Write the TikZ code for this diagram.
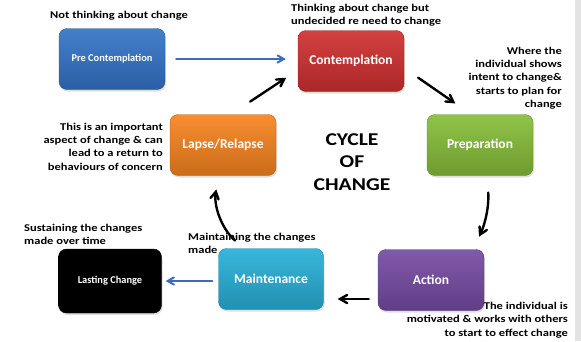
\documentclass[tikz,border=0pt]{standalone}
\usepackage{fontspec}
\setmainfont{Carlito}
\newfontfamily\notefont[FakeStretch=1.2]{Carlito}
\usepackage{tikz}
\usetikzlibrary{arrows}
\usetikzlibrary{shapes}
\usetikzlibrary{shadows}

\definecolor{precol}{HTML}{3474C8}
\definecolor{concol}{HTML}{D03030}
\definecolor{prepcol}{HTML}{86BE3A}
\definecolor{actcol}{HTML}{764BA3}
\definecolor{maintcol}{HTML}{28B0D8}
\definecolor{lapcol}{HTML}{F7841F}
\definecolor{bluearrow}{HTML}{3D6DBA}

\begin{document}
\begin{tikzpicture}[x=1pt,y=-1pt,>=angle 60,
                    every edge/.style={draw,line width=2.4pt,line cap=round},
                    stage/.style={rounded corners=8pt,minimum width=106pt,
                      minimum height=61pt,text=white,draw=#1!75!black,
                      top color=#1!92!white,bottom color=#1!82!black,
                      font=\bfseries\fontsize{13.5}{15}\selectfont,
                      drop shadow={opacity=0.25,shadow xshift=1pt,shadow yshift=-2pt}},
                    note/.style={inner sep=0pt,font=\notefont\bfseries\fontsize{10.4}{13.3}\selectfont}]
\useasboundingbox (0,0) rectangle (581,341);
\fill[gray!22] (575,0) rectangle (581,341);

\path
node[stage=precol,font=\bfseries\fontsize{10.4}{12}\selectfont] (pre) at (112,59) {Pre Contemplation}
node[stage=concol] (con) at (351,61) {Contemplation}
node[stage=prepcol] (prep) at (480,145) {Preparation}
node[stage=actcol] (act) at (431,280) {Action}
node[stage=maintcol,minimum width=105pt] (maint) at (271,279) {Maintenance}
node[stage=black,top color=black,bottom color=black,draw=black,minimum width=103pt,
     minimum height=64pt,font=\bfseries\fontsize{10.4}{12}\selectfont] (last) at (110,281) {Lasting Change}
node[stage=lapcol] (lap) at (223,145) {Lapse/Relapse};

\path
node[note,anchor=west] (n1) at (50,16) {Not thinking about change}
node[note,anchor=west,align=left] (n2) at (291,15.5) {Thinking about change but\\undecided re need to change}
node[note,anchor=east,align=right] (n3) at (562,78) {Where the\\individual shows\\intent to change\&\\starts to plan for\\change}
node[note,anchor=east,align=right] (n4) at (163,146.5) {This is an important\\aspect of change \& can\\lead to a return to\\behaviours of concern}
node[note,anchor=west,align=left] (n5) at (24,234.5) {Sustaining the changes\\made over time}
node[note,anchor=west,align=left] (n6) at (188,243.5) {Maintaining the changes\\made}
node[note,anchor=east,align=right] (n7) at (568,320) {The individual is\\motivated \& works with others\\to start to effect change}
node[inner sep=0pt,align=center,font=\notefont\bfseries\fontsize{18}{22.5}\selectfont] (title) at (352,162) {CYCLE\\OF\\CHANGE};

\path[->]
(pre.east) edge[bluearrow,line width=2pt,shorten <=11pt,shorten >=12pt] (pre.east -| con.west)
([xshift=8pt]lap.north) edge[shorten <=23pt,shorten >=14pt] ([yshift=-9pt]con.west)
([yshift=-7pt]con.east) edge[shorten <=17pt,shorten >=19pt] ([xshift=-9pt]prep.north)
([xshift=7pt]prep.south) edge[bend left=15,shorten <=17pt,shorten >=14pt] ([xshift=42pt]act.north)
([yshift=-19pt]act.west) edge[shorten <=9pt,shorten >=14pt] ([yshift=-20pt]maint.east)
([xshift=-27pt]maint.north) edge[bend left=30,shorten <=12pt,shorten >=14pt] ([xshift=-4pt]lap.south)
([yshift=-2pt]maint.west) edge[bluearrow,line width=2pt,shorten <=6pt,shorten >=4pt] (last.east);
\end{tikzpicture}
\end{document}
